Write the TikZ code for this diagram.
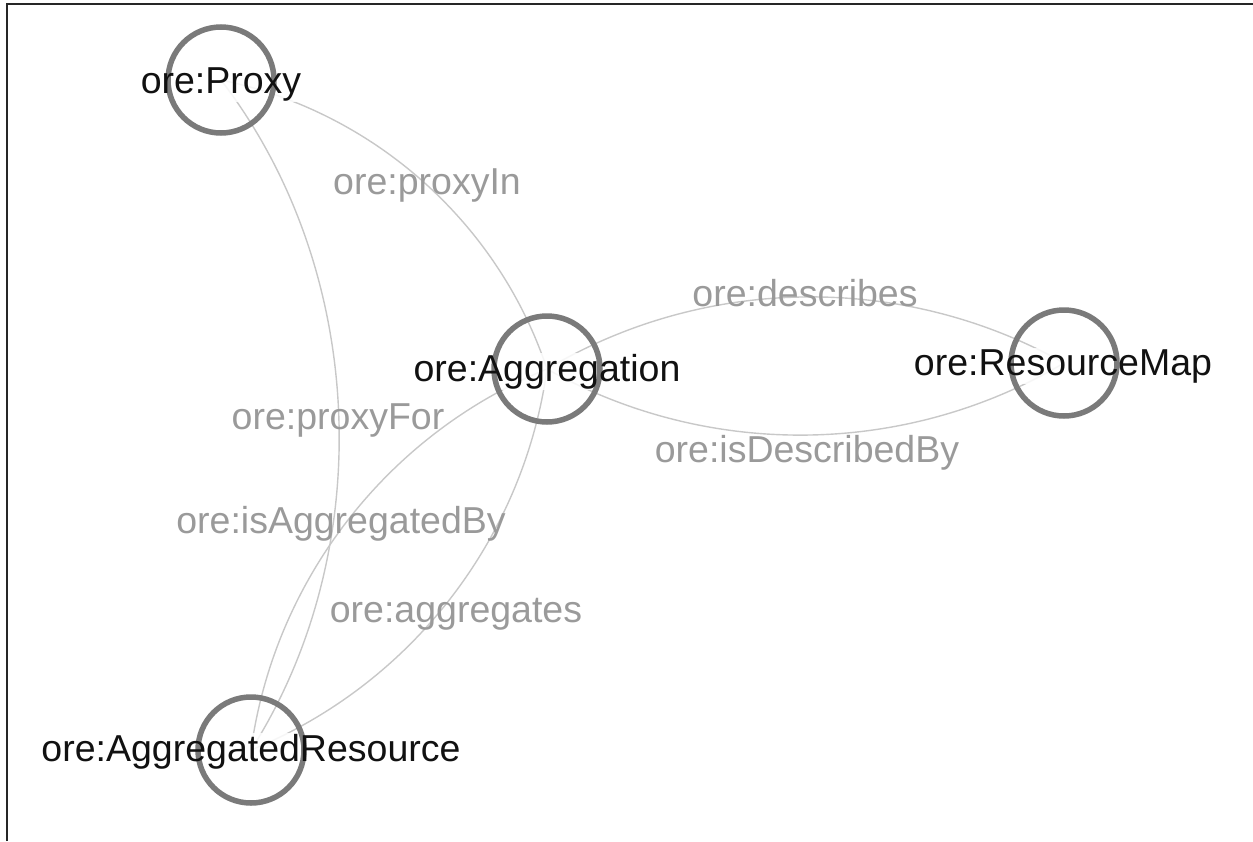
\documentclass[tikz,border=0pt]{standalone}
\usepackage{fontspec}
\setmainfont{Liberation Sans}
\definecolor{edgec}{HTML}{C8C8C8}
\definecolor{ringc}{HTML}{7A7A7A}
\definecolor{elabc}{HTML}{9A9A9A}
\definecolor{vtextc}{HTML}{111111}
\pgfdeclarelayer{edgelayer}
\pgfdeclarelayer{halolayer}
\pgfdeclarelayer{textlayer}
\pgfsetlayers{edgelayer,halolayer,main,textlayer}
\newcommand{\vlab}[3]{%
  \begin{pgfonlayer}{halolayer}\node[halo] at (#2) {#3};\end{pgfonlayer}%
  \begin{pgfonlayer}{textlayer}\node[vtext] (#1) at (#2) {#3};\end{pgfonlayer}}
\begin{document}
\begin{tikzpicture}[x=1pt,y=-1pt,
  vert/.style={circle,draw=ringc,line width=5.5pt,minimum size=106pt,inner sep=0pt},
  vtext/.style={text=vtextc,font=\fontsize{37.5}{45}\selectfont,inner sep=0pt,anchor=base},
  halo/.style={vtext,fill=white,fill opacity=0.85,text opacity=0,inner sep=1pt},
  elabel/.style={text=elabc,font=\fontsize{37.5}{45}\selectfont,inner sep=0pt,anchor=base},
  link/.style={draw=edgec,line width=1.4pt,bend left=30,looseness=0.91},
  frame/.style={draw=black!85,line width=2pt}]
\useasboundingbox (0,0) rectangle (1253,841);
\draw[frame] (6.7,841) -- (6.7,4.3) -- (1253,4.3);

\node[vert] (proxy) at (221,80) {};
\node[vert] (agg) at (547,369) {};
\node[vert] (rmap) at (1064,363) {};
\node[vert] (ares) at (251,750) {};

\begin{pgfonlayer}{edgelayer}
\draw[link] (proxy.center) to (agg.center);
\draw[link,bend left=35] (proxy.center) to (ares.center);
\draw[link] (agg.center) to (ares.center);
\draw[link] (ares.center) to (agg.center);
\draw[link] (agg.center) to (rmap.center);
\draw[link] (rmap.center) to (agg.center);
\end{pgfonlayer}

\node[elabel] (lproxyin) at (427,194) {ore:proxyIn};
\node[elabel] (ldescr) at (805,306) {ore:describes};
\node[elabel] (lisdescr) at (807,462) {ore:isDescribedBy};
\node[elabel] (lproxyfor) at (338,429) {ore:proxyFor};
\node[elabel] (lisagg) at (341,533) {ore:isAggregatedBy};
\node[elabel] (laggs) at (456,622) {ore:aggregates};

\vlab{tproxy}{221,93}{ore:Proxy}
\vlab{tagg}{547,381}{ore:Aggregation}
\vlab{trmap}{1063,375}{ore:ResourceMap}
\vlab{tares}{251,761}{ore:AggregatedResource}
\end{tikzpicture}
\end{document}
